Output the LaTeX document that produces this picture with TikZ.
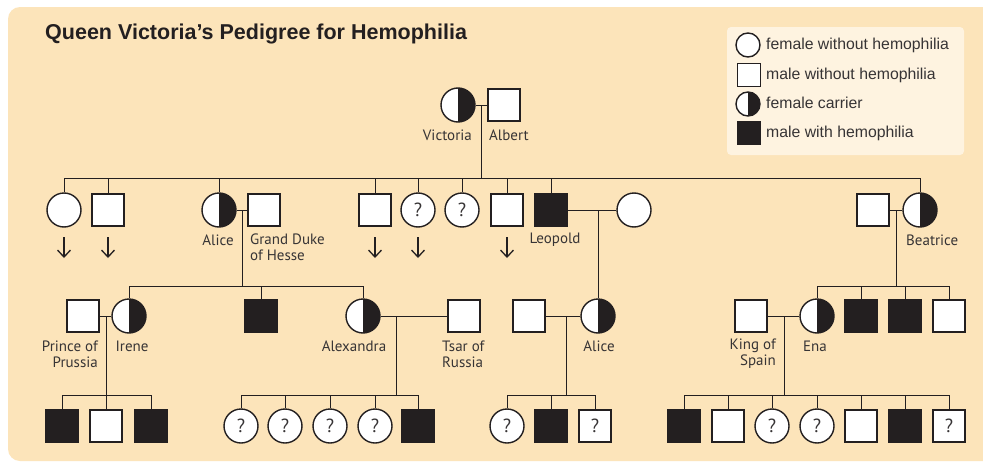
\documentclass[tikz,border=0pt]{standalone}
\usepackage{fontspec}
\setmainfont{Liberation Sans}
\newfontfamily\lblfont{PT Sans}
\usetikzlibrary{arrows.meta}
\definecolor{bgc}{RGB}{252,228,186}
\definecolor{legc}{RGB}{254,243,224}
\definecolor{ink}{RGB}{35,31,32}
\definecolor{txt}{RGB}{55,52,53}
\begin{document}
\begin{tikzpicture}[x=1pt,y=-1pt,
  ind/.style={draw=ink, line width=1.4pt, fill=white, inner sep=0pt, text=txt,
    font=\lblfont\fontsize{19}{19}\selectfont},
  fem/.style={ind, circle, minimum size=34pt},
  mal/.style={ind, rectangle, minimum size=32pt},
  aff/.style={mal, fill=ink},
  car/.style={fem, path picture={\fill[ink] (path picture bounding box.north) rectangle (path picture bounding box.south east);}},
  lfem/.style={ind, circle, minimum size=24pt},
  lmal/.style={ind, rectangle, minimum size=23pt},
  laff/.style={lmal, fill=ink},
  lcar/.style={lfem, path picture={\fill[ink] (path picture bounding box.north) rectangle (path picture bounding box.south east);}},
  link/.style={draw=ink, line width=1pt},
  arr/.style={draw=ink, line width=1.3pt, -{Straight Barb[length=7pt,width=13pt]}},
  lbl/.style={font=\lblfont\fontsize{15}{16}\selectfont, text=txt, inner sep=0pt},
  legtxt/.style={font=\fontsize{15.8}{15.8}\selectfont, text=txt, inner sep=0pt, anchor=west}
]
\useasboundingbox (0,0) rectangle (983,463);
\fill[white] (0,0) rectangle (983,463);
\fill[bgc, rounded corners=12pt] (8,7) rectangle (995,461);

% title
\node[anchor=west, inner sep=0pt, text=ink, font=\bfseries\fontsize{21.5}{21.5}\selectfont] (title) at (45,34) {Queen Victoria’s Pedigree for Hemophilia};

% legend
\fill[legc, rounded corners=4pt] (727,27) rectangle (964,155);
\node[lfem] (k1) at (748,45) {};
\node[lmal] (k2) at (749,75) {};
\node[lcar] (k3) at (748,104) {};
\node[laff] (k4) at (749,133) {};
\node[legtxt] (t1) at (766,45) {female without hemophilia};
\node[legtxt] (t2) at (766,75) {male without hemophilia};
\node[legtxt] (t3) at (766,103) {female carrier};
\node[legtxt] (t4) at (766,133) {male with hemophilia};

% generation 1
\node[car] (V) at (458,105) {};
\node[mal] (A) at (504,105) {};
\node[lbl, anchor=east] (Vl) at (472,135) {Victoria};
\node[lbl, anchor=west] (Al) at (489,135) {Albert};

% generation 2
\node[fem] (c1) at (64,210) {};
\node[mal] (c2) at (108,210) {};
\node[car] (Al1) at (219,210) {};
\node[mal] (GD) at (264,210) {};
\node[mal] (c4) at (375,210) {};
\node[fem] (c5) at (418,210) {?};
\node[fem] (c6) at (462,210) {?};
\node[mal] (c7) at (507,210) {};
\node[aff] (Leo) at (551,210) {};
\node[fem] (LeoW) at (634,210) {};
\node[mal] (BH) at (873,210) {};
\node[car] (Bea) at (920,210) {};

\node[lbl] (Al1l) at (218,240) {Alice};
\node[lbl, anchor=west, align=left] (GDl) at (250,247.5) {Grand Duke\\of Hesse};
\node[lbl] (Leol) at (555,240) {Leopold};
\node[lbl, anchor=west] (Beal) at (906,240) {Beatrice};

% generation 3
\node[mal] (PP) at (83,316) {};
\node[car] (Ir) at (129,316) {};
\node[aff] (g3) at (261,316) {};
\node[car] (Alx) at (363,316) {};
\node[mal] (Ts) at (464,316) {};
\node[mal] (AH) at (529,316) {};
\node[car] (Al2) at (598,316) {};
\node[mal] (KS) at (751,316) {};
\node[car] (Ena) at (817,316) {};
\node[aff] (b2) at (861,316) {};
\node[aff] (b3) at (905,316) {};
\node[mal] (b4) at (949,316) {};

\node[lbl, anchor=east, align=right] (PPl) at (98,354) {Prince of\\Prussia};
\node[lbl] (Irl) at (132,346) {Irene};
\node[lbl] (Alxl) at (354,346) {Alexandra};
\node[lbl, anchor=west, align=left] (Tsl) at (442,354) {Tsar of\\Russia};
\node[lbl] (Al2l) at (599,346) {Alice};
\node[lbl, anchor=east, align=right] (KSl) at (776,354) {King of\\Spain};
\node[lbl] (Enal) at (815,346) {Ena};

% generation 4
\node[aff] (i1) at (62,426) {};
\node[mal] (i2) at (106,426) {};
\node[aff] (i3) at (151,426) {};
\node[fem] (x1) at (241,426) {?};
\node[fem] (x2) at (285,426) {?};
\node[fem] (x3) at (330,426) {?};
\node[fem] (x4) at (375,426) {?};
\node[aff] (x5) at (418,426) {};
\node[fem] (l1) at (507,426) {?};
\node[aff] (l2) at (551,426) {};
\node[mal] (l3) at (595,426) {?};
\node[aff] (e1) at (684,426) {};
\node[mal] (e2) at (728,426) {};
\node[fem] (e3) at (772,426) {?};
\node[fem] (e4) at (817,426) {?};
\node[mal] (e5) at (861,426) {};
\node[aff] (e6) at (905,426) {};
\node[mal] (e7) at (949,426) {?};

% sibship bar heights
\coordinate (s2) at (0,178);
\coordinate (s3) at (0,286);
\coordinate (s4) at (0,395);

% marriage lines and descent points
\draw[link] (V.east) -- (A.west);
\coordinate (mVA) at (481,105);
\draw[link] (mVA) -- (mVA |- s2);

\draw[link] (Al1.east) -- (GD.west);
\coordinate (mAG) at (242,210);
\draw[link] (mAG) -- (mAG |- s3);

\draw[link] (Leo.east) -- (LeoW.west);
\coordinate (mLL) at (598,210);
\draw[link] (mLL) -- (Al2.north);

\draw[link] (BH.east) -- (Bea.west);
\coordinate (mBB) at (896,210);
\draw[link] (mBB) -- (mBB |- s3);

\draw[link] (PP.east) -- (Ir.west);
\coordinate (mPI) at (106,316);
\draw[link] (mPI) -- (mPI |- s4);

\draw[link] (Alx.east) -- (Ts.west);
\coordinate (mAT) at (396,316);
\draw[link] (mAT) -- (mAT |- s4);

\draw[link] (AH.east) -- (Al2.west);
\coordinate (mAA) at (566,316);
\draw[link] (mAA) -- (mAA |- s4);

\draw[link] (KS.east) -- (Ena.west);
\coordinate (mKE) at (784,316);
\draw[link] (mKE) -- (mKE |- s4);

% generation 2 sibship
\draw[link] (c1.north |- s2) -- (Bea.north |- s2);
\foreach \n in {c1,c2,Al1,c4,c5,c6,c7,Leo,Bea}
  \draw[link] (\n.north |- s2) -- (\n.north);

% generation 3 sibships
\draw[link] (Ir.north |- s3) -- (Alx.north |- s3);
\foreach \n in {Ir,g3,Alx}
  \draw[link] (\n.north |- s3) -- (\n.north);
\draw[link] (Ena.north |- s3) -- (b4.north |- s3);
\foreach \n in {Ena,b2,b3,b4}
  \draw[link] (\n.north |- s3) -- (\n.north);

% generation 4 sibships
\draw[link] (i1.north |- s4) -- (i3.north |- s4);
\foreach \n in {i1,i2,i3}
  \draw[link] (\n.north |- s4) -- (\n.north);
\draw[link] (x1.north |- s4) -- (x5.north |- s4);
\foreach \n in {x1,x2,x3,x4,x5}
  \draw[link] (\n.north |- s4) -- (\n.north);
\draw[link] (l1.north |- s4) -- (l3.north |- s4);
\foreach \n in {l1,l2,l3}
  \draw[link] (\n.north |- s4) -- (\n.north);
\draw[link] (e1.north |- s4) -- (e7.north |- s4);
\foreach \n in {e1,e2,e3,e4,e5,e6,e7}
  \draw[link] (\n.north |- s4) -- (\n.north);

% descendant arrows
\foreach \n/\x in {c1/64,c2/108,c4/375,c5/418,c7/507}{
  \coordinate (\n a) at (\x,237);
  \coordinate (\n b) at (\x,258);
  \draw[arr] (\n a) -- (\n b);
}
\end{tikzpicture}
\end{document}
